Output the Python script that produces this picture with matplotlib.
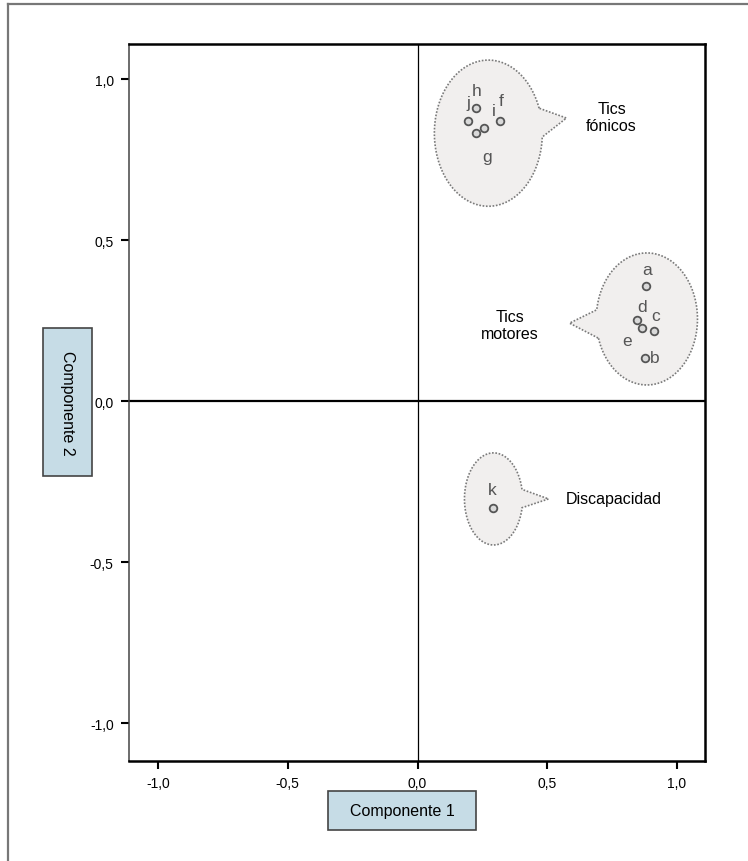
import numpy as np
import matplotlib.pyplot as plt
from matplotlib.patches import Polygon, Rectangle
from matplotlib.lines import Line2D

# component loadings
letters = ["a", "b", "c", "d", "e", "f", "g", "h", "i", "j", "k"]
comp1 = [0.882, 0.875, 0.913, 0.844, 0.867, 0.316, 0.224, 0.227, 0.258, 0.193, 0.289]
comp2 = [0.357, 0.134, 0.217, 0.252, 0.227, 0.870, 0.832, 0.910, 0.848, 0.870, -0.332]

ticks = [-1.0, -0.5, 0.0, 0.5, 1.0]
tick_labels = ["-1,0", "-0,5", "0,0", "0,5", "1,0"]

# label offsets in pixels (where the letter sits relative to its marker)
label_offsets = {
    "a": (1, 17), "b": (10, 0), "c": (1, 16), "d": (6, 13), "e": (-15, -13),
    "f": (2, 20), "g": (11, -23), "h": (0, 18), "i": (9, 18), "j": (1, 18),
    "k": (0, 18),
}

# bubbles: centre, radii, tail angles (deg), tail tip, caption
bubbles = [
    dict(c=(0.273, 0.832), r=(0.208, 0.227), t=(-3, 20), tip=(0.574, 0.879),
         text="Tics\nfónicos", pos=(0.748, 0.882), ha="center"),
    dict(c=(0.884, 0.255), r=(0.195, 0.205), t=(172, 197), tip=(0.586, 0.242),
         text="Tics\nmotores", pos=(0.355, 0.236), ha="center"),
    dict(c=(0.293, -0.304), r=(0.112, 0.143), t=(-11, 12), tip=(0.505, -0.304),
         text="Discapacidad", pos=(0.570, -0.304), ha="left"),
]

txt_font = ["Liberation Sans", "DejaVu Sans"]

fig = plt.figure(figsize=(7.48, 8.62), dpi=100)
ax = fig.add_axes([129 / 748, 1 - 762 / 862, 576 / 748, 717 / 862])

ax.set_xlim(-1.112, 1.108)
ax.set_ylim(-1.118, 1.109)

for b in bubbles:
    cx, cy = b["c"]
    rx, ry = b["r"]
    t1, t2 = b["t"]
    th = np.radians(np.linspace(t2, t1 + 360, 300))
    pts = np.column_stack([cx + rx * np.cos(th), cy + ry * np.sin(th)])
    pts = np.vstack([pts, b["tip"]])
    ax.add_patch(Polygon(pts, closed=True, facecolor="#f1efee", edgecolor="#7a7a7a",
                         linestyle=(0, (1, 1)), linewidth=1.2, zorder=2))
    ax.text(b["pos"][0], b["pos"][1], b["text"], ha=b["ha"], va="center",
            fontsize=11.5, family=txt_font, linespacing=1.1, zorder=5)

ax.axvline(0, color="black", linewidth=0.9, zorder=1)
ax.axhline(0, color="black", linewidth=1.6, zorder=1)

ax.plot(comp1, comp2, linestyle="none", marker="o", markersize=5.5,
        markerfacecolor="#d9d9d9", markeredgecolor="#555555", markeredgewidth=1.3, zorder=4)
for lab, x, y in zip(letters, comp1, comp2):
    dx, dy = label_offsets[lab]
    ax.annotate(lab, (x, y), xytext=(dx, dy), textcoords="offset pixels",
                ha="center", va="center", fontsize=12.5, color="#555555",
                family=txt_font, zorder=5)

ax.set_xticks(ticks)
ax.set_xticklabels(tick_labels)
ax.set_yticks(ticks)
ax.set_yticklabels(tick_labels)
ax.tick_params(direction="out", length=6, width=1.5, color="black", labelsize=10, pad=5)
for lbl in ax.get_xticklabels() + ax.get_yticklabels():
    lbl.set_family(txt_font)

for side in ["top", "right", "bottom"]:
    ax.spines[side].set_linewidth(1.8)
    ax.spines[side].set_color("black")
ax.spines["left"].set_linewidth(1.1)
ax.spines["left"].set_color("#444444")

# axis title boxes
fig.patches.append(Rectangle((328 / 748, 1 - 831 / 862), 148 / 748, 39 / 862,
                             transform=fig.transFigure, facecolor="#c6dce6",
                             edgecolor="#444444", linewidth=1.2))
fig.text(402 / 748, 1 - 811.5 / 862, "Componente 1", ha="center", va="center",
         fontsize=11.5, family=txt_font)
fig.patches.append(Rectangle((43 / 748, 1 - 477 / 862), 49 / 748, 148 / 862,
                             transform=fig.transFigure, facecolor="#c6dce6",
                             edgecolor="#444444", linewidth=1.2))
fig.text(67.5 / 748, 1 - 403 / 862, "Componente 2", ha="center", va="center",
         rotation=270, fontsize=11.5, family=txt_font)

# outer frame (top and left edges only)
fig.add_artist(Line2D([8 / 748, 1], [1 - 5 / 862, 1 - 5 / 862], transform=fig.transFigure,
                      color="#777777", linewidth=1.6))
fig.add_artist(Line2D([8 / 748, 8 / 748], [0, 1 - 5 / 862], transform=fig.transFigure,
                      color="#777777", linewidth=1.6))

fig.savefig("out.png", dpi=100)
